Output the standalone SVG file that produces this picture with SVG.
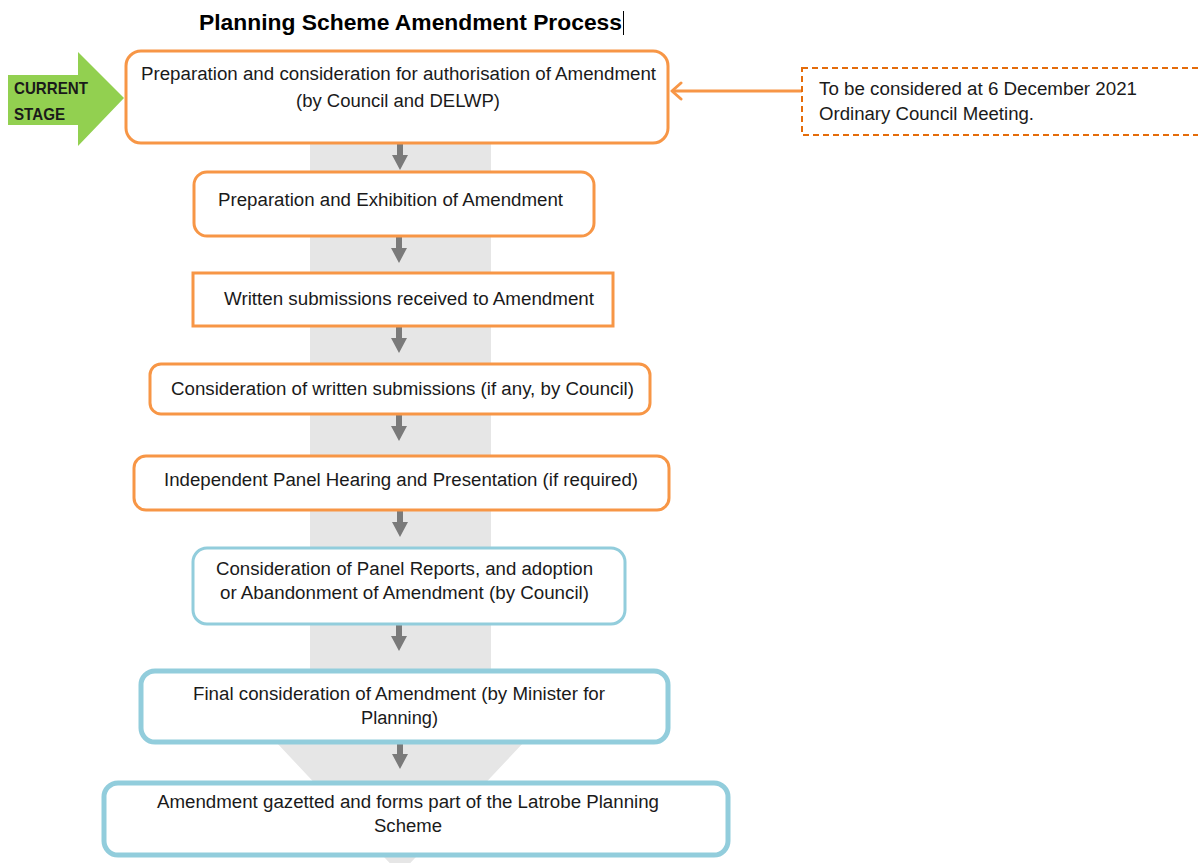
<svg xmlns="http://www.w3.org/2000/svg" width="1198" height="863" viewBox="0 0 1198 863">
<defs>
<style>
.t{font-family:"Liberation Sans",Arial,sans-serif;font-size:18px;fill:#1a1a1a;text-anchor:middle}
.n{font-family:"Liberation Sans",Arial,sans-serif;font-size:18px;fill:#1a1a1a}
.cs{font-family:"Liberation Sans Narrow","Liberation Sans",Arial,sans-serif;font-size:17px;font-weight:bold;fill:#1a1a1a}
.o{fill:#fff;stroke:#F79646;stroke-width:3}
.b{fill:#fff;stroke:#92CDDC}
.dn{fill:#7a7a7a}
</style>
<marker id="open" viewBox="0 0 20 20" refX="16" refY="10" markerWidth="20" markerHeight="20" markerUnits="userSpaceOnUse" orient="auto">
<path d="M7,2 L16,10 L7,18" fill="none" stroke="#F79646" stroke-width="3" stroke-linecap="round" stroke-linejoin="round"/>
</marker>
<path id="sa" d="M-3,0 h6 v12 h5 l-8,15 l-8,-15 h5 z"/>
</defs>
<rect width="1198" height="863" fill="#fff"/>
<g id="background-arrow">
<path d="M310,140 H491 V742 H524 L400,874 L276,742 H310 Z" fill="#E6E6E6"/>
</g>
<g id="title">
<text x="410.5" y="30" textLength="423" lengthAdjust="spacingAndGlyphs" style="font-family:'Liberation Sans',Arial,sans-serif;font-size:22px;font-weight:bold;fill:#000" text-anchor="middle">Planning Scheme Amendment Process</text>
<line x1="623.5" y1="11" x2="623.5" y2="35" stroke="#000" stroke-width="1"/>
</g>
<g id="current-stage">
<path d="M8,75 H78 V52 L124,98 L78,146 V125 H8 Z" fill="#92D050"/>
<text x="14" y="94" textLength="74" lengthAdjust="spacingAndGlyphs" class="cs">CURRENT</text>
<text x="14" y="120" textLength="51" lengthAdjust="spacingAndGlyphs" class="cs">STAGE</text>
</g>
<g id="connectors">
<use href="#sa" x="400" y="143" class="dn"/>
<use href="#sa" x="399" y="236" class="dn"/>
<use href="#sa" x="399" y="326" class="dn"/>
<use href="#sa" x="399" y="414" class="dn"/>
<use href="#sa" x="400" y="510" class="dn"/>
<use href="#sa" x="399" y="624" class="dn"/>
<use href="#sa" x="400" y="742" class="dn"/>
<line x1="802" y1="91" x2="672" y2="91" stroke="#F79646" stroke-width="3" marker-end="url(#open)"/>
</g>
<g id="node1">
<rect x="126" y="51" width="542" height="92" rx="15" class="o"/>
<text x="398.5" y="80" textLength="515" lengthAdjust="spacingAndGlyphs" class="t">Preparation and consideration for authorisation of Amendment</text>
<text x="398" y="107" textLength="204" lengthAdjust="spacingAndGlyphs" class="t">(by Council and DELWP)</text>
</g>
<g id="node2">
<rect x="194" y="172" width="400" height="64" rx="13" class="o"/>
<text x="390.5" y="206" textLength="345" lengthAdjust="spacingAndGlyphs" class="t">Preparation and Exhibition of Amendment</text>
</g>
<g id="node3">
<rect x="193" y="273" width="420" height="53" class="o"/>
<text x="409" y="305" textLength="370" lengthAdjust="spacingAndGlyphs" class="t">Written submissions received to Amendment</text>
</g>
<g id="node4">
<rect x="150" y="364" width="500" height="50" rx="11" class="o"/>
<text x="402.5" y="395" textLength="463" lengthAdjust="spacingAndGlyphs" class="t">Consideration of written submissions (if any, by Council)</text>
</g>
<g id="node5">
<rect x="134" y="456" width="535" height="54" rx="12" class="o"/>
<text x="401" y="486" textLength="474" lengthAdjust="spacingAndGlyphs" class="t">Independent Panel Hearing and Presentation (if required)</text>
</g>
<g id="node6">
<rect x="193" y="548" width="432" height="76" rx="14" class="b" stroke-width="3"/>
<text x="404.5" y="575" textLength="377" lengthAdjust="spacingAndGlyphs" class="t">Consideration of Panel Reports, and adoption</text>
<text x="404.5" y="599" textLength="369" lengthAdjust="spacingAndGlyphs" class="t">or Abandonment of Amendment (by Council)</text>
</g>
<g id="node7">
<rect x="141" y="671" width="527" height="71" rx="14" class="b" stroke-width="5"/>
<text x="399" y="700" textLength="412" lengthAdjust="spacingAndGlyphs" class="t">Final consideration of Amendment (by Minister for</text>
<text x="399.5" y="724" textLength="77" lengthAdjust="spacingAndGlyphs" class="t">Planning)</text>
</g>
<g id="node8">
<rect x="104" y="783" width="624" height="72" rx="14" class="b" stroke-width="5"/>
<text x="408" y="808" textLength="502" lengthAdjust="spacingAndGlyphs" class="t">Amendment gazetted and forms part of the Latrobe Planning</text>
<text x="408" y="832" textLength="68" lengthAdjust="spacingAndGlyphs" class="t">Scheme</text>
</g>
<g id="note">
<rect x="802" y="68" width="420" height="67" fill="#fff" stroke="#E46C0A" stroke-width="2" stroke-dasharray="6,4"/>
<text x="819" y="95" textLength="318" lengthAdjust="spacingAndGlyphs" class="n">To be considered at 6 December 2021</text>
<text x="819" y="120" textLength="215" lengthAdjust="spacingAndGlyphs" class="n">Ordinary Council Meeting.</text>
</g>
</svg>
